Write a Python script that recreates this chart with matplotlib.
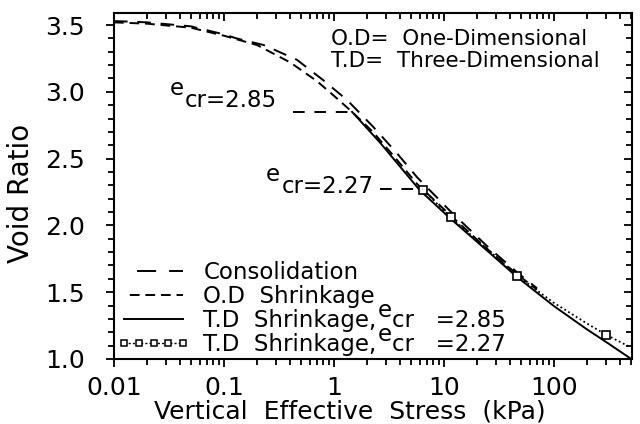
import matplotlib
matplotlib.use("Agg")
import matplotlib.pyplot as plt
from matplotlib.lines import Line2D
from matplotlib.ticker import MultipleLocator, LogLocator, FixedLocator, FixedFormatter, NullFormatter

# ---- data ----
consol_x = [0.01, 0.02, 0.05, 0.1, 0.13, 0.23, 0.46, 0.79, 1.31, 2.26, 3.74, 5.7, 11.3, 25, 46, 70]
consol_e = [3.53, 3.52, 3.49, 3.43, 3.40, 3.35, 3.24, 3.09, 2.94, 2.74, 2.54, 2.36, 2.11, 1.84, 1.65, 1.53]

od_x = [0.01, 0.02, 0.05, 0.1, 0.2, 0.4, 0.7, 1.0, 1.46, 2.26, 3.74, 5.7, 11.3, 25, 46, 70]
od_e = [3.52, 3.51, 3.48, 3.42, 3.35, 3.22, 3.08, 2.97, 2.85, 2.70, 2.49, 2.31, 2.08, 1.82, 1.635, 1.52]

td1_x = [1.46, 2.62, 6.0, 11.3, 25, 46, 100, 200, 302, 490]
td1_e = [2.85, 2.62, 2.265, 2.055, 1.807, 1.615, 1.396, 1.221, 1.124, 1.007]

td2_x = [6.5, 11.5, 25, 46, 100, 200, 300, 490]
td2_e = [2.265, 2.06, 1.82, 1.625, 1.42, 1.265, 1.18, 1.09]
td2_marks = [0, 1, 3, 6]

ecr_values = [2.85, 2.27]
ecr_line_x = [(0.42, 1.46), (2.6, 6.5)]
ecr_text_x = [0.032, 0.24]
ecr_text_e = [2.886, 2.243]

xticks = [0.01, 0.1, 1, 10, 100]
xticklabels = ["0.01", "0.1", "1", "10", "100"]
yticks = [1.0, 1.5, 2.0, 2.5, 3.0, 3.5]
yticklabels = ["1.0", "1.5", "2.0", "2.5", "3.0", "3.5"]

plt.rcParams['font.family'] = ['DejaVu Sans']

fig = plt.figure(figsize=(6.4, 4.24), dpi=100)
ax = fig.add_axes([114/640, 1-359/424, (632-114)/640, (359-13)/424])

lw = 1.4
ax.plot(consol_x, consol_e, color='black', lw=lw, ls=(0, (7, 5)))
ax.plot(od_x, od_e, color='black', lw=lw, ls=(0, (5, 3)))
ax.plot(td1_x, td1_e, color='black', lw=lw, ls='-')
ax.plot(td2_x, td2_e, color='black', lw=1.3, ls=(0, (1, 1.5)), marker='s', ms=5.5,
        mfc='white', mec='black', mew=1.2, markevery=td2_marks)

for (x0, x1), v in zip(ecr_line_x, ecr_values):
    ax.plot([x0, x1], [v, v], color='black', lw=lw, ls=(0, (6, 5)))
for tx, te, v in zip(ecr_text_x, ecr_text_e, ecr_values):
    t_e = ax.annotate("e", xy=(tx, te), xycoords='data', xytext=(0, 8.5),
                      textcoords='offset points', fontsize=16.5, va='baseline', ha='left')
    ax.annotate("cr=%.2f" % v, xy=(1, 0), xycoords=t_e, xytext=(1, -8.5),
                textcoords='offset points', fontsize=16.5, va='bottom', ha='left')

ax.set_xscale('log')
ax.set_xlim(0.01, 512)
ax.set_ylim(1.0, 3.59)

ax.xaxis.set_major_locator(FixedLocator(xticks))
ax.xaxis.set_major_formatter(FixedFormatter(xticklabels))
ax.xaxis.set_minor_locator(LogLocator(base=10, subs=range(2, 10), numticks=20))
ax.xaxis.set_minor_formatter(NullFormatter())
ax.yaxis.set_major_locator(FixedLocator(yticks))
ax.yaxis.set_major_formatter(FixedFormatter(yticklabels))
ax.yaxis.set_minor_locator(MultipleLocator(0.1))

for s in ax.spines.values():
    s.set_linewidth(1.5)
ax.tick_params(which='both', top=True, right=True, width=1.3)
ax.tick_params(axis='x', which='both', direction='out', labelsize=18, pad=6)
ax.tick_params(axis='y', which='both', direction='out', labelsize=18, pad=15)
ax.tick_params(which='major', length=6)
ax.tick_params(which='minor', length=4)
for t in ax.xaxis.get_major_ticks() + ax.xaxis.get_minor_ticks():
    t.tick2line.set_marker(3)  # top ticks point inward
for t in ax.yaxis.get_major_ticks() + ax.yaxis.get_minor_ticks():
    t.tick2line.set_marker(0)  # right ticks point inward

fig.text(21/640, 1-193/424, "Void Ratio", rotation=90, fontsize=20, ha='center', va='center')
fig.text(350/640, 1-418/424, "Vertical  Effective  Stress  (kPa)", fontsize=18, ha='center', va='baseline')

fig.text(331/640, 1-29/424, "O.D=  One-Dimensional", fontsize=15.5, ha='left', va='top')
fig.text(331/640, 1-51/424, "T.D=  Three-Dimensional", fontsize=15.5, ha='left', va='top')

handles = [
    Line2D([], [], color='black', lw=lw, ls=(9.8, (9.8, 6.7))),
    Line2D([], [], color='black', lw=lw, ls=(5, (5, 3))),
    Line2D([], [], color='black', lw=lw, ls='-'),
    Line2D([], [], color='black', lw=1.0, ls=(0, (1.5, 1.5)), marker='s', ms=5,
           mfc='white', mec='black', mew=1.1),
]
labels = ['Consolidation', 'O.D  Shrinkage', 'T.D  Shrinkage,', 'T.D  Shrinkage,']
legend_ecr = ["2.85", "2.27"]
leg = ax.legend(handles, labels, loc='lower left', bbox_to_anchor=(0.0, 0.0),
                frameon=False, fontsize=16.5, handlelength=3.15, handletextpad=0.6,
                labelspacing=0.04, borderaxespad=0.0, numpoints=5, borderpad=0.15)
for lt, v in zip(leg.get_texts()[2:], legend_ecr):
    le = ax.annotate("e", xy=(1, 0), xycoords=lt, xytext=(1, 7),
                     textcoords='offset points', fontsize=16.5, va='bottom', ha='left',
                     zorder=10)
    ax.annotate("cr   =" + v, xy=(1, 0), xycoords=le, xytext=(0, -7),
                textcoords='offset points', fontsize=16.5, va='bottom', ha='left',
                zorder=11)

fig.savefig("out.png", dpi=100)
